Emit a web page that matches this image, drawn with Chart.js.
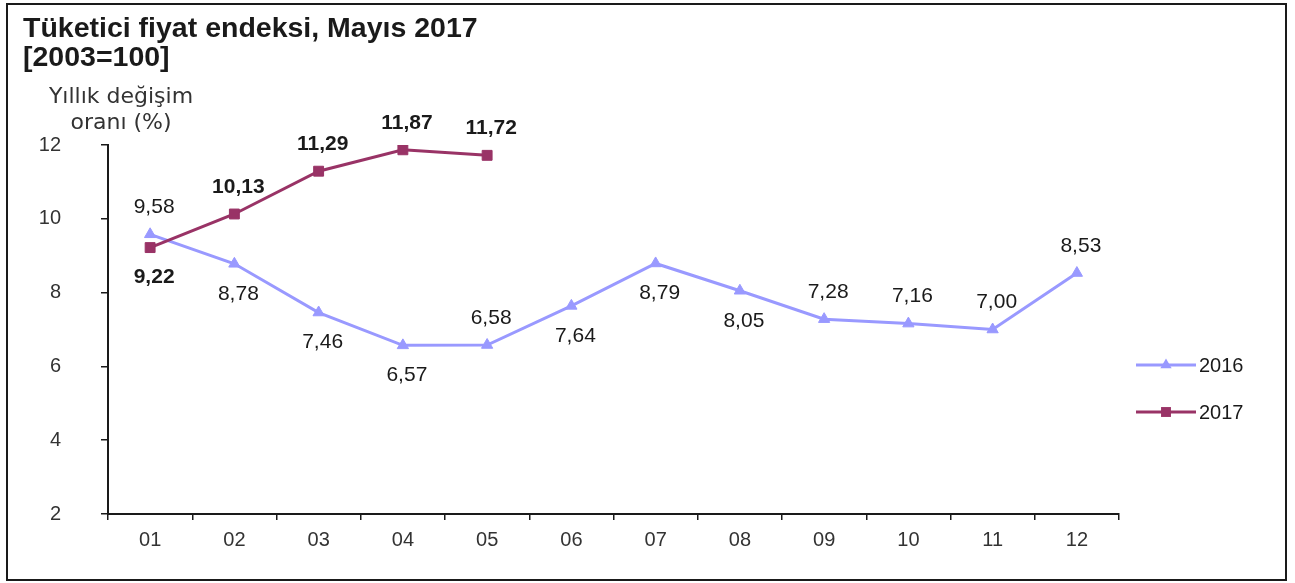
<!DOCTYPE html>
<html>
<head>
<meta charset="utf-8">
<script src="https://cdn.jsdelivr.net/npm/chart.js@4"></script>
<style>
  html, body { margin: 0; padding: 0; background: #fff; }
  #wrap { position: relative; width: 1295px; height: 583px; }
  #frame { position: absolute; left: 6px; top: 3px; width: 1277px; height: 574px; border: 2px solid #1a1a1a; pointer-events: none; }
</style>
</head>
<body>
<div id="wrap">
  <canvas id="myChart" width="1295" height="583"></canvas>
  <div id="frame"></div>
</div>
<script>
const months = ['01', '02', '03', '04', '05', '06', '07', '08', '09', '10', '11', '12'];
const values2016 = [9.58, 8.78, 7.46, 6.57, 6.58, 7.64, 8.79, 8.05, 7.28, 7.16, 7.00, 8.53];
const values2017 = [9.22, 10.13, 11.29, 11.87, 11.72];
// where the value label sits relative to its point
const side2016 = ['up', 'down', 'down', 'down', 'up', 'down', 'down', 'down', 'up', 'up', 'up', 'up'];
const side2017 = ['down', 'up', 'up', 'up', 'up'];
const yTicks = [2, 4, 6, 8, 10, 12];

const color2016 = '#9999ff';
const color2017 = '#993366';
const sansFont = '"Liberation Sans", Arial, sans-serif';

function fmt(v) {
  return v.toFixed(2).replace('.', ',');
}

// textos, etiquetas e legenda desenhados à mão
const extras = {
  id: 'extras',
  afterDatasetsDraw(chart) {
    const c = chart.ctx;
    c.save();

    // titulo
    c.fillStyle = '#1a1a1a';
    c.textAlign = 'left';
    c.textBaseline = 'alphabetic';
    c.font = 'bold 28.5px ' + sansFont;
    c.fillText('Tüketici fiyat endeksi, Mayıs 2017', 23, 37);
    c.fillText('[2003=100]', 23, 66);

    // titulo do eixo y
    c.fillStyle = '#333';
    c.textAlign = 'center';
    c.textBaseline = 'middle';
    c.font = '22px "DejaVu Sans", sans-serif';
    c.fillText('Yıllık değişim', 121, 97);
    c.fillText('oranı (%)', 121, 123);

    // rotulos dos pontos
    const drawLabels = (idx, vals, sides, bold) => {
      const meta = chart.getDatasetMeta(idx);
      c.font = (bold ? 'bold ' : '') + '21px ' + sansFont;
      c.fillStyle = '#1a1a1a';
      meta.data.forEach((pt, i) => {
        const dy = sides[i] === 'up' ? -27 : 30;
        c.fillText(fmt(vals[i]), pt.x + 4, pt.y + dy);
      });
    };
    drawLabels(0, values2016, side2016, false);
    drawLabels(1, values2017, side2017, true);

    // legenda
    const items = [
      { text: '2016', color: color2016, style: 'triangle', r: 6.5, y: 365 },
      { text: '2017', color: color2017, style: 'rect', r: 7, y: 412 }
    ];
    items.forEach(it => {
      c.strokeStyle = it.color;
      c.lineWidth = 3;
      c.beginPath();
      c.moveTo(1136, it.y);
      c.lineTo(1196, it.y);
      c.stroke();
      c.fillStyle = it.color;
      Chart.helpers.drawPoint(c, { pointStyle: it.style, radius: it.r, rotation: 0, borderWidth: 0 }, 1166, it.y);
      c.fillStyle = '#1a1a1a';
      c.textAlign = 'left';
      c.font = '20px ' + sansFont;
      c.fillText(it.text, 1199, it.y + 1);
    });

    c.restore();
  }
};

const ctx = document.getElementById('myChart');

const myChart = new Chart(ctx, {
  type: 'line',
  data: {
    labels: months,
    datasets: [
      {
        label: '2016',
        data: values2016,
        borderColor: color2016,
        backgroundColor: color2016,
        borderWidth: 3,
        pointStyle: 'triangle',
        pointRadius: 6.5,
        pointBorderWidth: 1,
        tension: 0,
        order: 1
      },
      {
        label: '2017',
        data: values2017,
        borderColor: color2017,
        backgroundColor: color2017,
        borderWidth: 3,
        pointStyle: 'rect',
        pointRadius: 7,
        pointBorderWidth: 1,
        tension: 0,
        order: 0
      }
    ]
  },
  options: {
    responsive: false,
    animation: false,
    layout: {
      padding: { left: 8, right: 176, top: 145, bottom: 9 }
    },
    plugins: {
      legend: { display: false },
      title: { display: false },
      tooltip: { enabled: false }
    },
    scales: {
      x: {
        offset: true,
        grid: {
          offset: true,
          drawOnChartArea: false,
          drawTicks: true,
          tickLength: 6,
          color: '#1a1a1a',
          lineWidth: 1.5
        },
        border: { display: true, color: '#1a1a1a', width: 2 },
        ticks: {
          color: '#333',
          padding: 8,
          font: { family: sansFont, size: 20 }
        },
        afterFit(scale) { scale.height = 60; }
      },
      y: {
        min: 2,
        max: 12,
        afterBuildTicks(scale) {
          scale.ticks = yTicks.map(v => ({ value: v }));
        },
        grid: {
          drawOnChartArea: false,
          drawTicks: true,
          tickLength: 7,
          color: '#1a1a1a',
          lineWidth: 1.5
        },
        border: { display: true, color: '#1a1a1a', width: 2 },
        ticks: {
          color: '#333',
          padding: 40,
          font: { family: sansFont, size: 20 }
        },
        afterFit(scale) { scale.width = 100; }
      }
    }
  },
  plugins: [extras]
});
</script>
</body>
</html>
